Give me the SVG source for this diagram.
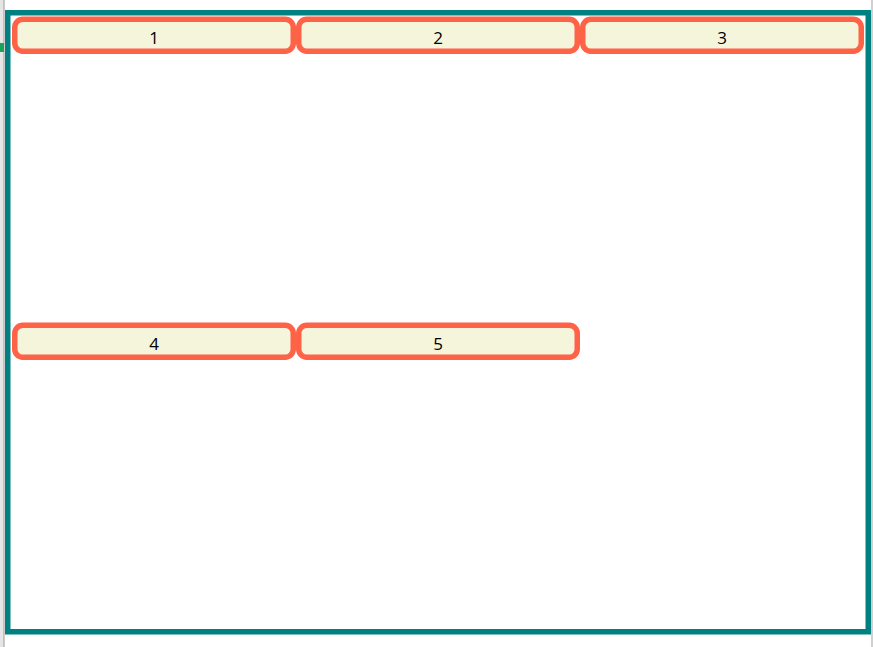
<svg xmlns="http://www.w3.org/2000/svg" width="873" height="647" viewBox="0 0 873 647">
  <style>
    .frame { fill: #ffffff; stroke: #008080; stroke-width: 5.5; }
    .node rect { fill: #F5F5DC; stroke: #FF6347; stroke-width: 5.5; }
    .node text { font-family: "Open Sans", "Noto Sans", "DejaVu Sans", sans-serif; font-size: 17px; fill: #000000; text-anchor: middle; dominant-baseline: central; }
  </style>
  <rect x="0" y="0" width="873" height="647" fill="#ffffff"/>
  <rect x="0" y="0" width="4" height="647" fill="#e6e6e6"/>
  <rect x="3.5" y="0" width="1" height="647" fill="#9a9a9a"/>
  <rect x="0" y="43" width="4" height="9" fill="#1aa35a"/>
  <rect x="871" y="0" width="2" height="647" fill="#d0d0d0"/>
  <rect class="frame" x="7.75" y="12.75" width="860.5" height="619"/>
  <g id="node1" class="node">
    <rect x="14.75" y="19.25" width="278.5" height="32" rx="8"/>
    <text x="154" y="37">1</text>
  </g>
  <g id="node2" class="node">
    <rect x="298.75" y="19.25" width="278.5" height="32" rx="8"/>
    <text x="438" y="37">2</text>
  </g>
  <g id="node3" class="node">
    <rect x="582.75" y="19.25" width="278.5" height="32" rx="8"/>
    <text x="722" y="37">3</text>
  </g>
  <g id="node4" class="node">
    <rect x="14.75" y="325.25" width="278.5" height="32" rx="8"/>
    <text x="154" y="343.5">4</text>
  </g>
  <g id="node5" class="node">
    <rect x="298.75" y="325.25" width="278.5" height="32" rx="8"/>
    <text x="438" y="343.5">5</text>
  </g>
  <g id="connectors"></g>
</svg>
